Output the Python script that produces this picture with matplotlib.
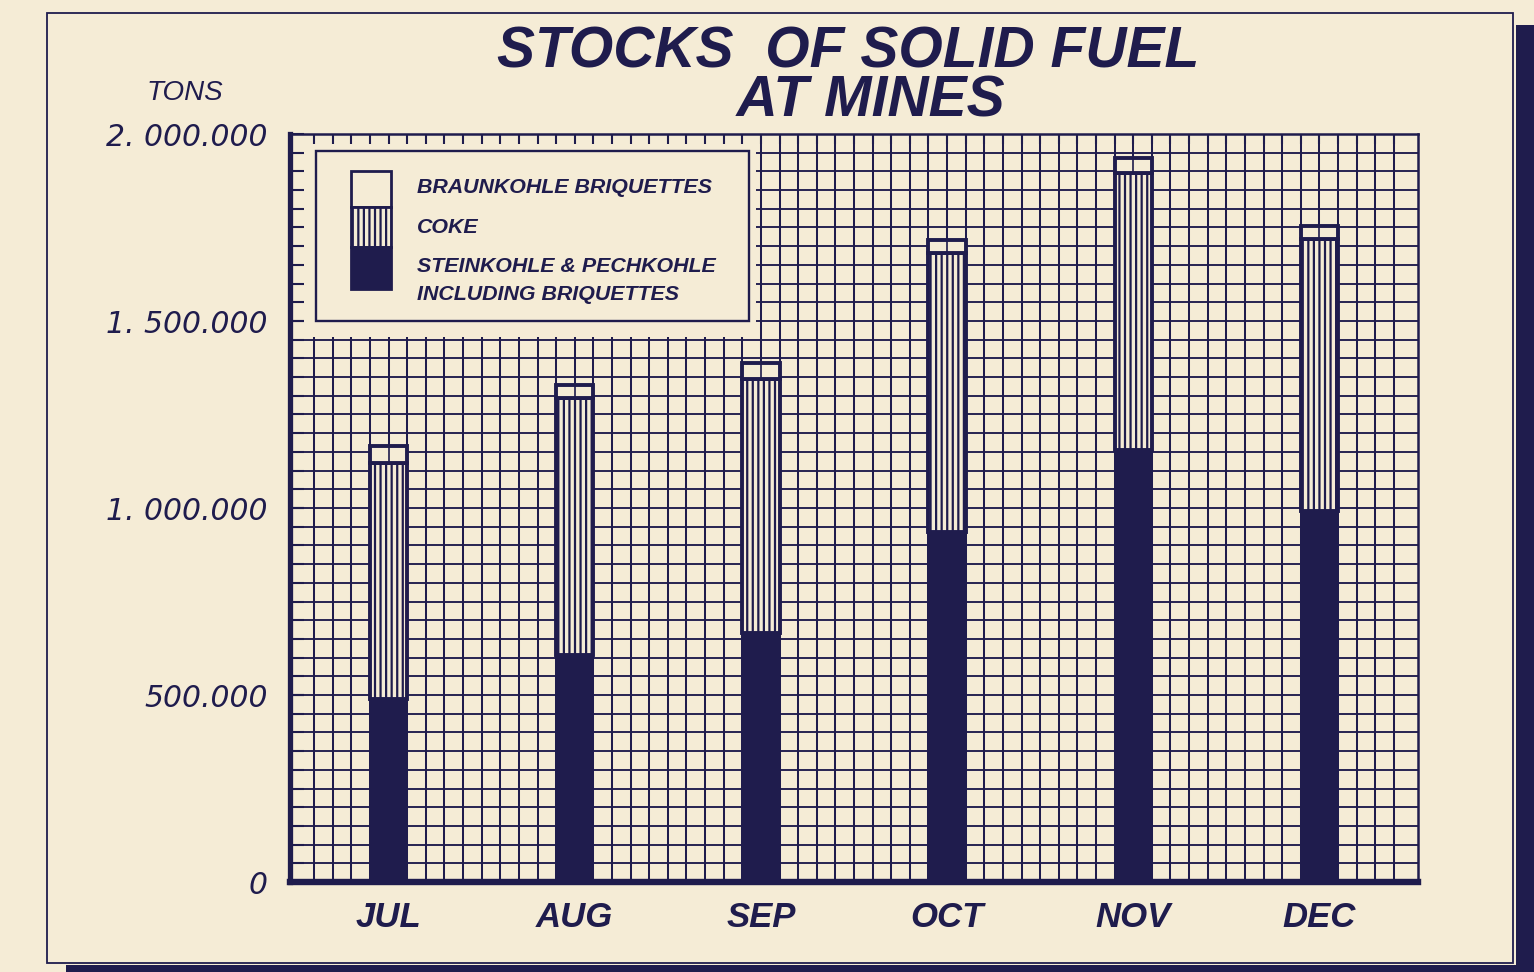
import matplotlib
matplotlib.use('Agg')
import matplotlib.pyplot as plt
from matplotlib.patches import Rectangle
from matplotlib.ticker import FixedLocator
import numpy as np

# ---------------- data ----------------
months = ['JUL', 'AUG', 'SEP', 'OCT', 'NOV', 'DEC']
steinkohle = [489000, 606000, 665000, 935000, 1154000, 993000]
coke = [632000, 689000, 681000, 747000, 742000, 727000]
braunkohle = [46000, 35000, 43000, 35000, 40000, 34000]
ytick_values = [0, 500000, 1000000, 1500000, 2000000]
ytick_labels = ['0', '500.000', '1. 000.000', '1. 500.000', '2. 000.000']
legend_labels = ['BRAUNKOHLE BRIQUETTES', 'COKE',
                 'STEINKOHLE & PECHKOHLE\nINCLUDING BRIQUETTES']
title_lines = ['STOCKS  OF SOLID FUEL', 'AT MINES']
unit_label = 'TONS'

# ---------------- style ----------------
INK = '#1f1c4d'
PAPER = '#f5ecd6'
FONT = 'Liberation Sans'
plt.rcParams['font.family'] = [FONT, 'DejaVu Sans']
plt.rcParams['hatch.linewidth'] = 1.6
plt.rcParams['hatch.color'] = INK

W, H = 1534, 972
fig = plt.figure(figsize=(W / 100, H / 100), dpi=100)
fig.patch.set_facecolor(PAPER)


def fx(px):
    return px / W


def fy(py):
    return 1 - py / H


# card shadow + border
fig.patches.append(Rectangle((fx(1516), 0), 1, (972 - 25) / H, transform=fig.transFigure,
                             facecolor=INK, edgecolor='none', zorder=-2))
fig.patches.append(Rectangle((fx(66), 0), 1, 7 / H, transform=fig.transFigure,
                             facecolor=INK, edgecolor='none', zorder=-2))
fig.patches.append(Rectangle((fx(47), fy(963)), fx(1513 - 47), (963 - 13) / H,
                             transform=fig.transFigure, facecolor=PAPER,
                             edgecolor=INK, lw=1.3, zorder=-1))

# ---------------- axes ----------------
ax = fig.add_axes([fx(290), fy(882), fx(1418 - 290), (882 - 134) / H])
ax.set_zorder(2)
ax.set_facecolor(PAPER)
XL = (-0.53, 5.53)
YT = 2000000
ax.set_xlim(*XL)
ax.set_ylim(0, YT)

grid_x = np.round(np.arange(-4, 55) / 10, 2)
grid_y = np.arange(1, 40) * 50000
ax.vlines(grid_x, 0, YT, color=INK, lw=1.45, zorder=1)
ax.hlines(grid_y, XL[0], XL[1], color=INK, lw=1.35, zorder=1)

# area cleared for the legend
ax.add_patch(Rectangle((XL[0], 1456000), 1.975 - XL[0], YT - 1456000,
                       facecolor=PAPER, edgecolor='none', zorder=1.5))

# bars
x = np.arange(len(months))
s = np.array(steinkohle)
c = np.array(coke)
b = np.array(braunkohle)
bw = 0.2
ax.bar(x, s, bw, color=INK, edgecolor=INK, lw=0, zorder=3)
ax.bar(x, c, bw, bottom=s, facecolor=PAPER, edgecolor=INK, hatch='|||', lw=2.8, zorder=3)
ax.bar(x, b, bw, bottom=s + c, facecolor=PAPER, edgecolor=INK, lw=2.8, zorder=3)
ax.vlines(x, s + c, s + c + b, color=INK, lw=1.2, zorder=4)

# legend
ax.add_patch(Rectangle((-0.392, 1500700), 2.327, 454000, facecolor=PAPER,
                       edgecolor=INK, lw=1.7, zorder=4))
ax.add_patch(Rectangle((-0.204, 1805000), 0.215, 96000, facecolor=PAPER,
                       edgecolor=INK, lw=2.0, zorder=5))
ax.add_patch(Rectangle((-0.204, 1698000), 0.215, 107000, facecolor=PAPER,
                       edgecolor=INK, lw=2.0, hatch='|||', zorder=5))
ax.add_patch(Rectangle((-0.204, 1586000), 0.215, 112000, facecolor=INK,
                       edgecolor=INK, lw=2.0, zorder=5))
leg_y = [[1856000], [1749000], [1645000, 1570000]]
for lab, ys in zip(legend_labels, leg_y):
    for line, yy in zip(lab.split('\n'), ys):
        ax.text(0.15, yy, line, fontsize=15.4, fontweight='bold', fontstyle='italic',
                color=INK, va='center', ha='left', zorder=6)

# spines
for side, lw in [('left', 3.8), ('bottom', 4.6), ('top', 1.8), ('right', 1.8)]:
    ax.spines[side].set_linewidth(lw)
    ax.spines[side].set_color(INK)

# ticks
ax.xaxis.remove_overlapping_locs = False
ax.yaxis.remove_overlapping_locs = False
ax.xaxis.set_major_locator(FixedLocator(x))
ax.set_xticklabels(months)
ax.xaxis.set_minor_locator(FixedLocator(grid_x))
ax.tick_params(axis='x', which='major', length=0, bottom=True, top=False, pad=14,
               labelsize=25, labelcolor=INK)
ax.tick_params(axis='x', which='minor', top=True, bottom=False, direction='in',
               length=7, width=1.5, color=INK)
ax.yaxis.set_major_locator(FixedLocator(ytick_values))
ax.set_yticklabels(ytick_labels)
ax.yaxis.set_minor_locator(FixedLocator(grid_y))
ax.tick_params(axis='y', which='both', direction='in', length=10, width=1.5,
               color=INK, left=True, right=False)
ax.tick_params(axis='y', which='major', pad=16, labelsize=21.5, labelcolor=INK)
for t in ax.get_xticklabels():
    t.set_fontweight('bold')
    t.set_fontstyle('italic')
for t in ax.get_yticklabels():
    t.set_fontstyle('italic')
    t.set_family(['DejaVu Sans'])

# title (one two-line text) and unit
title = title_lines[0] + '\n' + '   ' + title_lines[1]
fig.text(fx(848), fy(77), title, fontsize=41, fontweight='bold',
         fontstyle='italic', color=INK, ha='center', va='center',
         multialignment='center', linespacing=0.9, zorder=3)
fig.text(fx(185), fy(93), unit_label, fontsize=20, fontstyle='italic',
         color=INK, ha='center', va='center', zorder=3)

fig.savefig('out.png', dpi=100, facecolor=PAPER)
